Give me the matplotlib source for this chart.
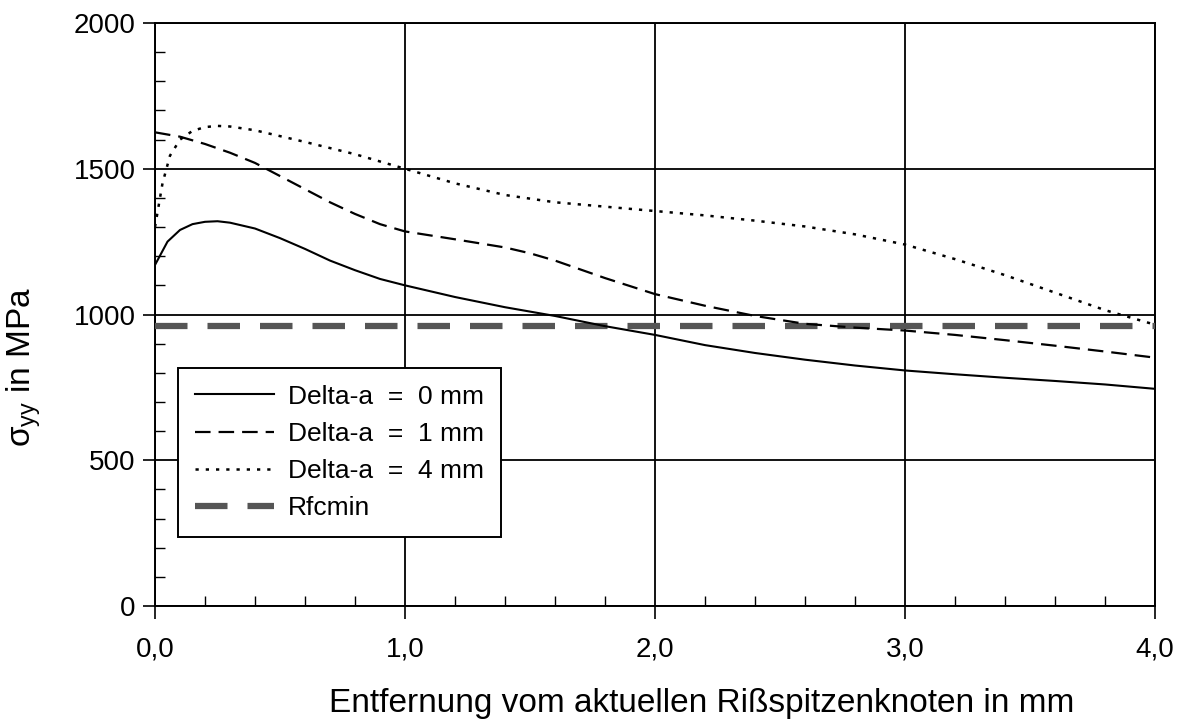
import matplotlib
matplotlib.use("Agg")
import matplotlib.pyplot as plt
from matplotlib.ticker import MultipleLocator, FuncFormatter

plt.rcParams['font.family'] = ['Liberation Sans', 'DejaVu Sans']
plt.rcParams['mathtext.fontset'] = 'custom'
plt.rcParams['mathtext.rm'] = 'Liberation Sans'

# Data
x0 = [0.0, 0.05, 0.1, 0.15, 0.2, 0.25, 0.3, 0.4, 0.5, 0.6, 0.7, 0.8, 0.9, 1.0, 1.2, 1.4, 1.6, 1.8, 2.0, 2.2, 2.4, 2.6, 2.8, 3.0, 3.2, 3.4, 3.6, 3.8, 4.0]
y0 = [1170, 1250, 1290, 1310, 1318, 1320, 1315, 1295, 1262, 1225, 1185, 1152, 1122, 1100, 1060, 1025, 995, 960, 930, 895, 868, 845, 825, 808, 795, 783, 772, 760, 745]

x1 = [0.0, 0.1, 0.2, 0.3, 0.4, 0.5, 0.6, 0.7, 0.8, 0.9, 1.0, 1.2, 1.4, 1.5, 1.6, 1.8, 2.0, 2.2, 2.4, 2.6, 2.8, 3.0, 3.2, 3.4, 3.6, 3.8, 4.0]
y1 = [1625, 1610, 1585, 1555, 1520, 1475, 1430, 1385, 1345, 1310, 1285, 1258, 1230, 1210, 1185, 1125, 1070, 1030, 995, 968, 955, 945, 930, 912, 893, 873, 852]

x4 = [0.0, 0.03, 0.06, 0.1, 0.15, 0.2, 0.25, 0.3, 0.4, 0.5, 0.6, 0.8, 1.0, 1.2, 1.4, 1.6, 1.8, 2.0, 2.2, 2.4, 2.6, 2.8, 3.0, 3.2, 3.4, 3.6, 3.8, 3.9, 4.0]
y4 = [1300, 1450, 1545, 1600, 1630, 1643, 1647, 1645, 1632, 1612, 1592, 1550, 1500, 1450, 1410, 1385, 1370, 1355, 1340, 1322, 1302, 1275, 1240, 1190, 1135, 1075, 1015, 990, 965]

xr = [0.0, 4.0]
yr = [962, 962]

labels = ['Delta-a  =  0 mm', 'Delta-a  =  1 mm', 'Delta-a  =  4 mm', 'Rfcmin']

fig = plt.figure(figsize=(11.85, 7.26), dpi=100)
ax = fig.add_axes([0.1308, 0.1653, 0.8439, 0.8030])

ax.plot(x0, y0, color='black', lw=1.5, label=labels[0], zorder=4)
ax.plot(x1, y1, color='black', lw=1.6, dashes=(7.0, 3.6), label=labels[1], zorder=4)
ax.plot(x4, y4, color='black', lw=1.8, dashes=(1.3, 2.8), label=labels[2], zorder=4)
ax.plot(xr, yr, color='#555555', lw=4.5, dashes=(5.2, 3.2), label=labels[3], zorder=3)

ax.set_xlim(0, 4.0)
ax.set_ylim(0, 2000)
ax.xaxis.set_major_locator(MultipleLocator(1.0))
ax.xaxis.set_minor_locator(MultipleLocator(0.2))
ax.yaxis.set_major_locator(MultipleLocator(500))
ax.yaxis.set_minor_locator(MultipleLocator(100))
ax.xaxis.set_major_formatter(FuncFormatter(lambda v, p: f"{v:.1f}".replace('.', ',')))
ax.yaxis.set_major_formatter(FuncFormatter(lambda v, p: f"{int(v)}"))

ax.grid(True, which='major', color='black', lw=1.3)
ax.set_axisbelow(True)
for s in ax.spines.values():
    s.set_linewidth(1.4)
    s.set_color('black')

ax.tick_params(which='major', direction='out', length=9, width=1.2, labelsize=20)
ax.tick_params(which='minor', direction='in', length=7, width=1.0)
ax.tick_params(axis='x', which='major', pad=13)
ax.tick_params(axis='y', which='major', pad=5)

ax.set_xlabel('Entfernung vom aktuellen Rißspitzenknoten in mm', fontsize=24)
ax.xaxis.set_label_coords(0.547, -0.14)
ax.set_ylabel(r'σ$_{\mathregular{yy}}$ in MPa', fontsize=24)
ax.yaxis.set_label_coords(-0.112, 0.41)

leg = ax.legend(loc='lower left', bbox_to_anchor=(0.018, 0.11), fontsize=19,
                frameon=True, fancybox=False, framealpha=1, edgecolor='black',
                handlelength=3.0, handletextpad=0.55, borderpad=0.62, labelspacing=0.5,
                borderaxespad=0.2)
leg.get_frame().set_linewidth(1.4)

fig.savefig('out.png', dpi=100)
